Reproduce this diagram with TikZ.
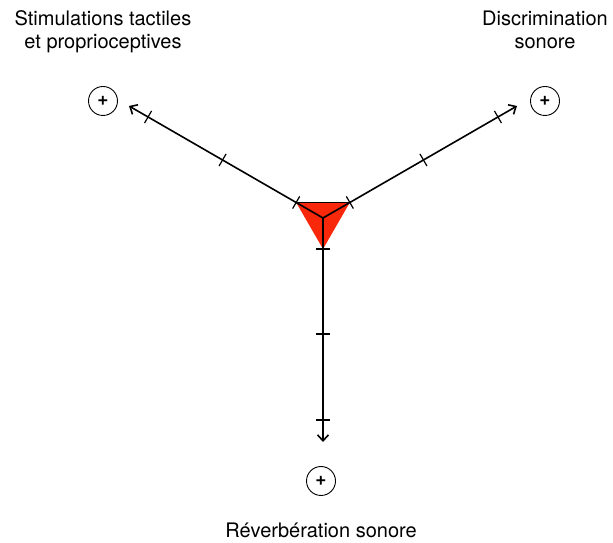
\documentclass[tikz,border=0pt]{standalone}
\usepackage{fontspec}
\setmainfont{TeX Gyre Heros}
\usetikzlibrary{arrows.meta,calc}
\definecolor{trired}{RGB}{250,40,10}

\begin{document}
\begin{tikzpicture}[x=1pt, y=1pt,
  axis/.style={line width=1.6pt, -{Straight Barb[length=6pt,width=11pt]}},
  tickmark/.style={line width=1.2pt},
  pole/.style={draw, circle, line width=0.9pt, minimum size=29pt, inner sep=0pt, font=\fontsize{19}{19}\selectfont\bfseries},
  axlabel/.style={align=center, font=\fontsize{20}{23.5}\selectfont}]
\useasboundingbox (0,0) rectangle (613,543);
\coordinate (O) at (323,325);
% ends of the three axes
\coordinate (e1) at ($(O)+(150:224)$);
\coordinate (e2) at ($(O)+(30:224)$);
\coordinate (e3) at ($(O)+(270:224)$);
% red triangle
\fill[trired] ($(O)+(150:31)$) -- ($(O)+(30:31)$) -- ($(O)+(270:31)$) -- cycle;
\draw[line width=0.6pt] ($(O)+(150:31)$) -- ($(O)+(30:31)$);
\path (O) edge[axis] (e1)
      (O) edge[axis] (e2)
      (O) edge[axis] (e3);
\foreach \a in {150,30,270}
  \foreach \r in {31,116,202}
    \draw[tickmark] ($(O)+(\a:\r)+(\a+90:7)$) -- ($(O)+(\a:\r)+(\a-90:7)$);
\node (1)[pole] at (103,442) {+};
\node (2)[pole] at (545,442) {+};
\node (3)[pole] at (321,62)  {+};
\node (l1)[axlabel, anchor=base] at (103,494) {Stimulations tactiles\\et proprioceptives};
\node (l2)[axlabel, anchor=base] at (545,494) {Discrimination\\sonore};
\node (l3)[axlabel, anchor=base] at (321,5)   {Réverbération sonore};
\end{tikzpicture}
\end{document}
